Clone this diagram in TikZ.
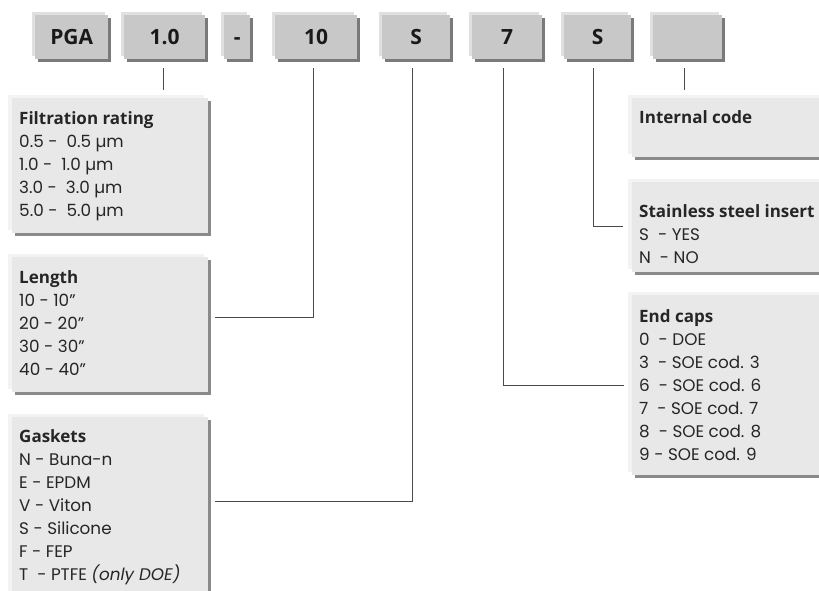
\documentclass[tikz,border=0pt]{standalone}
\usepackage{fontspec}
\usetikzlibrary{calc}
\setmainfont{Poppins}
\newfontfamily\titlefont{Open Sans}
\definecolor{codefill}{HTML}{C8C8C8}
\definecolor{codehl}{HTML}{E0E0E0}
\definecolor{codesh}{HTML}{7A7A7A}
\definecolor{descfill}{HTML}{E8E8E8}
\definecolor{deschl}{HTML}{F3F3F3}
\definecolor{descsh}{HTML}{8A8A8A}
\definecolor{connc}{HTML}{4A4A4A}
\newcommand\boxtitle[1]{{\titlefont\bfseries\fontsize{17}{23}\selectfont #1}}
\tikzset{
  codebox/.style={rectangle, fill=codefill, inner sep=0pt, anchor=north west,
    minimum height=44pt, text height=14pt, text depth=0pt,
    font=\titlefont\bfseries\fontsize{21}{24}\selectfont, text=black!90,
    preaction={fill=codehl, transform canvas={shift={(-3pt,3pt)}}},
    preaction={fill=codesh, transform canvas={shift={(3pt,-3pt)}}}},
  descbox/.style={rectangle, fill=descfill, inner sep=0pt, anchor=north west,
    preaction={fill=deschl, transform canvas={shift={(-4pt,3pt)}}},
    preaction={fill=descsh, transform canvas={shift={(3pt,-3pt)}}}},
  desctext/.style={inner sep=0pt, anchor=north west, align=left,
    font=\fontsize{16.8}{23}\selectfont, text=black!85},
  conn/.style={draw=connc, line width=1pt}
}
\newcommand\fl{\rule{0pt}{16pt}}
\begin{document}
\begin{tikzpicture}[x=1pt,y=-1pt]
\useasboundingbox (0,0) rectangle (819,591);
\clip (0,0) rectangle (819,591);
% code boxes
\node[codebox, minimum width=73pt] (b0) at (35,15) {PGA};
\node[codebox, minimum width=81pt] (b1) at (124,15) {1.0};
\node[codebox, minimum width=26pt] (b2) at (224,15) {-};
\node[codebox, minimum width=82pt] (b3) at (275,15) {10};
\node[codebox, minimum width=68pt] (b4) at (382,15) {S};
\node[codebox, minimum width=70pt] (b5) at (472,15) {7};
\node[codebox, minimum width=67pt] (b6) at (564,15) {S};
\node[codebox, minimum width=69pt] (b7) at (653,15) {};
% description boxes
\node[descbox, minimum width=196pt, minimum height=135pt] (filt) at (12,98) {};
\node[descbox, minimum width=196pt, minimum height=135pt] (len) at (12,257) {};
\node[descbox, minimum width=196pt, minimum height=190pt] (gask) at (12,417) {};
\node[descbox, minimum width=210pt, minimum height=59pt] (intc) at (632,98) {};
\node[descbox, minimum width=210pt, minimum height=90pt] (stain) at (632,182) {};
\node[descbox, minimum width=210pt, minimum height=180pt] (caps) at (632,295) {};
% texts
\node[desctext] (tfilt) at (19,108) {\fl\boxtitle{Filtration rating}\\
0.5 -\ \ 0.5 µm\\ 1.0 -\ \ 1.0 µm\\ 3.0 -\ \ 3.0 µm\\ 5.0 -\ \ 5.0 µm};
\node[desctext] (tlen) at (19,267) {\fl\boxtitle{Length}\\
10 - 10"\\ 20 - 20"\\ 30 - 30"\\ 40 - 40"};
\node[desctext] (tgask) at (19,426) {\fl\boxtitle{Gaskets}\\
N - Buna-n\\ E - EPDM\\ V - Viton\\ S - Silicone\\ F - FEP\\ T\ \ - PTFE \textit{(only DOE)}};
\node[desctext] (tintc) at (639,107) {\fl\boxtitle{Internal code}};
\node[desctext] (tstain) at (639,201) {\fl\boxtitle{Stainless steel insert}\\
S\ \ - YES\\ N\ \ - NO};
\node[desctext] (tcaps) at (639,306) {\fl\boxtitle{End caps}\\
0\ \ - DOE\\ 3\ \ - SOE cod. 3\\ 6\ \ - SOE cod. 6\\ 7\ \ - SOE cod. 7\\ 8\ \ - SOE cod. 8\\ 9 - SOE cod. 9};
% connectors
\draw[conn] ([xshift=-1.5pt,yshift=-9pt]b1.south) -- ($(b1.south |- filt.north)+(-1.5,-8)$);
\draw[conn] ([xshift=-3pt,yshift=-9pt]b3.south) |- ([xshift=7pt,yshift=7.5pt]len.east);
\draw[conn] ([xshift=-4pt,yshift=-9pt]b4.south) |- ([xshift=7pt,yshift=10.5pt]gask.east);
\draw[conn] ([xshift=-4pt,yshift=-9pt]b5.south) |- ([xshift=-8pt]caps.west);
\draw[conn] ([xshift=-4.5pt,yshift=-9pt]b6.south) |- ([xshift=-9pt,yshift=1pt]stain.west);
\draw[conn] ([xshift=-3.5pt,yshift=-9pt]b7.south) -- ($(b7.south |- intc.north)+(-3.5,-8)$);
\end{tikzpicture}
\end{document}
